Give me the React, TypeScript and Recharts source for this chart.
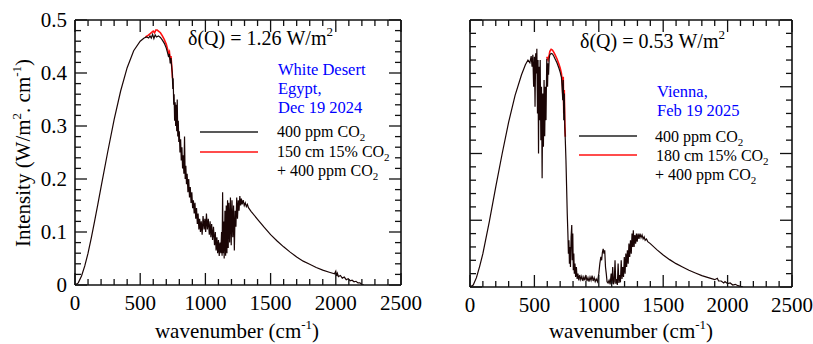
import { LineChart, Line, XAxis, YAxis } from 'recharts';

const FONT = '"Liberation Serif", "Times New Roman", Times, serif';

type Pt = [number, number];

// wavenumber ticks (every 100 cm-1, labelled every 500)
const X_TICKS = [0, 100, 200, 300, 400, 500, 600, 700, 800, 900, 1000, 1100, 1200, 1300, 1400, 1500, 1600, 1700, 1800, 1900, 2000, 2100, 2200, 2300, 2400, 2500];
const Y_TICKS_EGYPT = [0, 0.02, 0.04, 0.06, 0.08, 0.1, 0.12, 0.14, 0.16, 0.18, 0.2, 0.22, 0.24, 0.26, 0.28, 0.3, 0.32, 0.34, 0.36, 0.38, 0.4, 0.42, 0.44, 0.46, 0.48, 0.5];
const Y_TICKS_VIENNA = [0, 0.02, 0.04, 0.06, 0.08, 0.1, 0.12, 0.14, 0.16, 0.18, 0.2, 0.22, 0.24, 0.26, 0.28, 0.3, 0.32, 0.34, 0.36, 0.38, 0.4];

// White Desert, Egypt — 400 ppm CO2
const EGYPT_400: Pt[] = [
  [0, 0], [25, 0.004], [50, 0.017], [75, 0.036], [100, 0.06], [125, 0.089], [150, 0.12], [175, 0.152], [200, 0.185],
  [250, 0.25], [300, 0.312], [350, 0.366], [400, 0.41], [450, 0.442], [500, 0.46], [530, 0.466], [550, 0.468],
  [565, 0.466], [575, 0.47], [585, 0.466], [595, 0.473], [605, 0.465], [615, 0.472], [625, 0.468], [640, 0.47],
  [655, 0.467], [670, 0.462], [685, 0.456], [700, 0.447], [710, 0.438], [718, 0.43], [724, 0.436], [730, 0.418],
  [736, 0.428], [742, 0.41], [746, 0.4], [750, 0.37], [753, 0.39], [757, 0.34], [760, 0.36], [764, 0.31], [768, 0.345],
  [772, 0.3], [776, 0.34], [780, 0.29], [784, 0.35], [788, 0.28], [792, 0.31], [796, 0.27], [800, 0.29], [805, 0.25],
  [810, 0.275], [815, 0.235], [820, 0.26], [825, 0.22], [830, 0.245], [835, 0.21], [840, 0.28], [845, 0.2], [850, 0.225],
  [855, 0.19], [860, 0.21], [866, 0.175], [872, 0.2], [878, 0.165], [884, 0.185], [890, 0.155], [896, 0.175],
  [902, 0.145], [908, 0.16], [914, 0.135], [920, 0.155], [926, 0.125], [932, 0.145], [938, 0.115], [944, 0.135],
  [950, 0.105], [956, 0.125], [962, 0.1], [968, 0.12], [975, 0.095], [982, 0.13], [990, 0.105], [996, 0.125],
  [1002, 0.1], [1008, 0.135], [1015, 0.105], [1022, 0.125], [1030, 0.095], [1036, 0.12], [1042, 0.09], [1048, 0.115],
  [1055, 0.085], [1062, 0.11], [1070, 0.075], [1076, 0.1], [1082, 0.065], [1088, 0.09], [1094, 0.06], [1100, 0.085],
  [1106, 0.055], [1112, 0.08], [1118, 0.06], [1124, 0.1], [1128, 0.055], [1132, 0.175], [1136, 0.06], [1140, 0.12],
  [1144, 0.05], [1150, 0.14], [1155, 0.055], [1160, 0.15], [1165, 0.06], [1170, 0.16], [1175, 0.07], [1180, 0.155],
  [1186, 0.08], [1192, 0.165], [1198, 0.075], [1204, 0.16], [1210, 0.09], [1216, 0.15], [1222, 0.065], [1228, 0.14],
  [1234, 0.11], [1240, 0.165], [1246, 0.125], [1252, 0.16], [1258, 0.14], [1264, 0.168], [1270, 0.15], [1276, 0.163],
  [1282, 0.152], [1290, 0.16], [1298, 0.15], [1306, 0.155], [1314, 0.148], [1322, 0.152], [1330, 0.146], [1350, 0.139],
  [1400, 0.124], [1450, 0.109], [1500, 0.095], [1550, 0.083], [1600, 0.072], [1650, 0.062], [1700, 0.053],
  [1750, 0.045], [1800, 0.039], [1850, 0.033], [1900, 0.028], [1950, 0.024], [1990, 0.021], [2000, 0.026],
  [2006, 0.017], [2012, 0.022], [2020, 0.016], [2035, 0.018], [2050, 0.013], [2065, 0.015], [2080, 0.01],
  [2095, 0.012], [2110, 0.008], [2125, 0.009], [2140, 0.006], [2155, 0.007], [2170, 0.004], [2185, 0.004],
  [2200, 0.001], [2215, 0],
];

// White Desert — 150 cm 15% CO2 + 400 ppm (only where it departs from the 400 ppm curve)
const EGYPT_CO2: Pt[] = [
  [540, 0.468], [560, 0.471], [575, 0.474], [590, 0.477], [600, 0.479], [610, 0.476], [620, 0.481], [630, 0.481],
  [640, 0.479], [655, 0.476], [670, 0.47], [685, 0.463], [700, 0.454], [710, 0.445], [718, 0.437], [724, 0.44],
  [730, 0.425], [736, 0.432], [742, 0.412], [748, 0.39],
];

// Vienna — 400 ppm CO2
const VIENNA_400: Pt[] = [
  [0, 0], [25, 0.003], [50, 0.014], [75, 0.031], [100, 0.05], [150, 0.098], [200, 0.15], [250, 0.2], [300, 0.247],
  [350, 0.287], [400, 0.318], [430, 0.333], [450, 0.34], [465, 0.336], [475, 0.346], [482, 0.33], [488, 0.348],
  [494, 0.3], [500, 0.345], [505, 0.27], [510, 0.35], [515, 0.32], [519, 0.357], [524, 0.26], [528, 0.34], [532, 0.2],
  [536, 0.33], [540, 0.25], [545, 0.34], [550, 0.22], [555, 0.3], [560, 0.163], [565, 0.29], [570, 0.21], [575, 0.31],
  [580, 0.226], [585, 0.3], [590, 0.25], [596, 0.342], [602, 0.3], [606, 0.335], [610, 0.318], [615, 0.343],
  [620, 0.348], [630, 0.35], [640, 0.349], [650, 0.346], [660, 0.342], [675, 0.336], [690, 0.328], [700, 0.322],
  [710, 0.314], [715, 0.3], [720, 0.28], [724, 0.31], [728, 0.25], [732, 0.29], [736, 0.24], [740, 0.22], [745, 0.19],
  [750, 0.15], [755, 0.11], [760, 0.08], [764, 0.05], [768, 0.07], [772, 0.035], [776, 0.06], [780, 0.03], [785, 0.075],
  [790, 0.093], [794, 0.04], [798, 0.08], [802, 0.025], [806, 0.05], [810, 0.02], [815, 0.035], [820, 0.015],
  [826, 0.03], [832, 0.012], [838, 0.02], [845, 0.01], [852, 0.018], [860, 0.011], [868, 0.016], [876, 0.009],
  [884, 0.015], [892, 0.01], [900, 0.018], [908, 0.009], [916, 0.014], [924, 0.008], [932, 0.015], [940, 0.01],
  [948, 0.017], [956, 0.009], [964, 0.014], [972, 0.008], [980, 0.012], [990, 0.008], [1000, 0.02], [1008, 0.035],
  [1016, 0.045], [1022, 0.04], [1028, 0.052], [1034, 0.057], [1040, 0.05], [1046, 0.055], [1052, 0.03], [1058, 0.02],
  [1064, 0.008], [1072, 0.006], [1080, 0.01], [1088, 0.004], [1096, 0.02], [1102, 0.005], [1108, 0.03], [1114, 0.004],
  [1120, 0.008], [1126, 0.04], [1132, 0.005], [1138, 0.012], [1144, 0.003], [1150, 0.035], [1156, 0.006],
  [1162, 0.018], [1168, 0.007], [1174, 0.04], [1180, 0.012], [1186, 0.03], [1192, 0.015], [1198, 0.045], [1204, 0.02],
  [1210, 0.05], [1216, 0.03], [1222, 0.055], [1228, 0.035], [1234, 0.065], [1240, 0.045], [1246, 0.07], [1252, 0.05],
  [1258, 0.08], [1263, 0.06], [1268, 0.085], [1274, 0.06], [1280, 0.078], [1286, 0.065], [1292, 0.08], [1298, 0.068],
  [1305, 0.08], [1312, 0.072], [1320, 0.08], [1328, 0.074], [1336, 0.078], [1344, 0.072], [1352, 0.075], [1360, 0.07],
  [1370, 0.072], [1380, 0.068], [1400, 0.065], [1450, 0.056], [1500, 0.048], [1550, 0.041], [1600, 0.035],
  [1650, 0.03], [1700, 0.025], [1750, 0.021], [1800, 0.017], [1850, 0.014], [1900, 0.011], [1920, 0.013],
  [1930, 0.009], [1950, 0.009], [1970, 0.006], [1980, 0.008], [2000, 0.005], [2020, 0.006], [2040, 0.003],
  [2060, 0.004], [2080, 0.002], [2100, 0.001], [2120, 0],
];

// Vienna — 180 cm 15% CO2 + 400 ppm
const VIENNA_CO2: Pt[] = [
  [596, 0.345], [606, 0.34], [615, 0.348], [620, 0.353], [630, 0.356], [640, 0.355], [650, 0.352], [660, 0.348],
  [675, 0.342], [690, 0.334], [700, 0.328], [710, 0.32], [715, 0.31], [720, 0.29], [724, 0.315], [728, 0.26],
  [732, 0.295], [736, 0.245], [740, 0.225],
];

const rows = (pts: Pt[]) => pts.map(([x, y]) => ({ x, y }));

function XTick({ x, y, payload, side }: any) {
  const v = payload.value as number;
  const major = v % 500 === 0;
  const len = major ? 12 : 6;
  const dir = side === 'top' ? 1 : -1;
  return (
    <g>
      <line x1={x} x2={x} y1={y} y2={y + dir * len} stroke="#111" strokeWidth={1.3} />
      {side === 'bottom' && major && (
        <text x={x} y={y + 25} textAnchor="middle" fontSize={21} fontFamily={FONT} fill="#000">{v}</text>
      )}
    </g>
  );
}

function YTick({ x, y, payload, side, labels }: any) {
  const v = payload.value as number;
  const major = Math.abs(v * 10 - Math.round(v * 10)) < 1e-6;
  const len = major ? 12 : 6;
  const dir = side === 'left' ? 1 : -1;
  return (
    <g>
      <line x1={x} x2={x + dir * len} y1={y} y2={y} stroke="#111" strokeWidth={1.3} />
      {side === 'left' && labels && major && (
        <text x={x - 8} y={y + 7} textAnchor="end" fontSize={21} fontFamily={FONT} fill="#000">
          {v === 0 ? '0' : v.toFixed(1)}
        </text>
      )}
    </g>
  );
}

const axisLine = { stroke: '#111', strokeWidth: 1.6 };

function Panel({ width, leftW, rightW, bottomH, yMax, yTicks, labels, base, co2 }: {
  width: number; leftW: number; rightW: number; bottomH: number; yMax: number;
  yTicks: number[]; labels: boolean; base: Pt[]; co2: Pt[];
}) {
  return (
    <LineChart width={width} height={344} margin={{ top: 0, right: 0, bottom: 0, left: 0 }}>
      <XAxis xAxisId="b" dataKey="x" type="number" domain={[0, 2500]} ticks={X_TICKS} interval={0}
        allowDataOverflow tickSize={0} tickMargin={0} tickLine={false} axisLine={axisLine} height={bottomH}
        tick={(p: any) => <XTick {...p} side="bottom" />} />
      <XAxis xAxisId="t" orientation="top" dataKey="x" type="number" domain={[0, 2500]} ticks={X_TICKS} interval={0}
        allowDataOverflow tickSize={0} tickMargin={0} tickLine={false} axisLine={axisLine} height={20}
        tick={(p: any) => <XTick {...p} side="top" />} />
      <YAxis yAxisId="l" type="number" domain={[0, yMax]} ticks={yTicks} interval={0} allowDataOverflow
        tickSize={0} tickMargin={0} tickLine={false} axisLine={axisLine} width={leftW}
        tick={(p: any) => <YTick {...p} side="left" labels={labels} />} />
      <YAxis yAxisId="r" orientation="right" type="number" domain={[0, yMax]} ticks={yTicks} interval={0}
        allowDataOverflow tickSize={0} tickMargin={0} tickLine={false} axisLine={axisLine} width={rightW}
        tick={(p: any) => <YTick {...p} side="right" />} />
      <Line xAxisId="b" yAxisId="l" data={rows(co2)} dataKey="y" type="linear" stroke="#ff1010"
        strokeWidth={1.6} dot={false} isAnimationActive={false} />
      <Line xAxisId="b" yAxisId="l" data={rows(base)} dataKey="y" type="linear" stroke="#1a0505"
        strokeWidth={1.2} dot={false} isAnimationActive={false} />
    </LineChart>
  );
}

const CO2 = (
  <>CO<tspan fontSize={11} dy={4}>2</tspan></>
);

function Annotations() {
  const t = { fontFamily: FONT, fill: '#000' };
  return (
    <svg width={813} height={344} style={{ position: 'absolute', left: 0, top: 0, pointerEvents: 'none' }}>
      {/* y axis title */}
      <text transform="translate(30,153) rotate(-90)" textAnchor="middle" fontSize={21} {...t}>
        Intensity (W/m<tspan fontSize={13} dy={-9}>2</tspan><tspan dy={9}>. cm</tspan>
        <tspan fontSize={13} dy={-9}>-1</tspan><tspan dy={9}>)</tspan>
      </text>
      {/* x axis titles */}
      {[237, 631].map((cx) => (
        <text key={cx} x={cx} y={338} textAnchor="middle" fontSize={21} {...t}>
          wavenumber (cm<tspan fontSize={13} dy={-9}>-1</tspan><tspan dy={9}>)</tspan>
        </text>
      ))}

      {/* left panel */}
      <text x={188} y={45} fontSize={20} {...t}>
        δ(Q) = 1.26 W/m<tspan fontSize={13} dy={-9}>2</tspan>
      </text>
      <g fontFamily={FONT} fontSize={16.5} fill="#0000ff">
        <text x={278} y={75}>White Desert</text>
        <text x={278} y={94}>Egypt,</text>
        <text x={278} y={113}>Dec 19 2024</text>
      </g>
      <line x1={200} x2={258} y1={132} y2={132} stroke="#222" strokeWidth={1.5} />
      <line x1={200} x2={258} y1={152} y2={152} stroke="#ff1010" strokeWidth={1.5} />
      <g fontSize={16} {...t}>
        <text x={277} y={137}>400 ppm {CO2}</text>
        <text x={277} y={157}>150 cm 15% {CO2}</text>
        <text x={277} y={176}>+ 400 ppm {CO2}</text>
      </g>

      {/* right panel */}
      <text x={580} y={48} fontSize={20} {...t}>
        δ(Q) = 0.53 W/m<tspan fontSize={13} dy={-9}>2</tspan>
      </text>
      <g fontFamily={FONT} fontSize={16.5} fill="#0000ff">
        <text x={657} y={97}>Vienna,</text>
        <text x={657} y={116}>Feb 19 2025</text>
      </g>
      <line x1={579} x2={637} y1={136} y2={136} stroke="#222" strokeWidth={1.5} />
      <line x1={579} x2={637} y1={155} y2={155} stroke="#ff1010" strokeWidth={1.5} />
      <g fontSize={16} {...t}>
        <text x={655} y={142}>400 ppm {CO2}</text>
        <text x={656} y={161}>180 cm 15% {CO2}</text>
        <text x={655} y={180}>+ 400 ppm {CO2}</text>
      </g>
    </svg>
  );
}

export default function App() {
  return (
    <div style={{ position: 'absolute', left: 0, top: 0, width: 813, height: 344, background: '#fff', fontFamily: FONT }}>
      <div style={{ position: 'absolute', left: 0, top: 0 }}>
        <Panel width={440} leftW={75} rightW={39} bottomH={59} yMax={0.5} yTicks={Y_TICKS_EGYPT}
          labels base={EGYPT_400} co2={EGYPT_CO2} />
      </div>
      <div style={{ position: 'absolute', left: 420, top: 0 }}>
        <Panel width={393} leftW={50} rightW={21} bottomH={57} yMax={0.4} yTicks={Y_TICKS_VIENNA}
          labels={false} base={VIENNA_400} co2={VIENNA_CO2} />
      </div>
      <Annotations />
    </div>
  );
}
